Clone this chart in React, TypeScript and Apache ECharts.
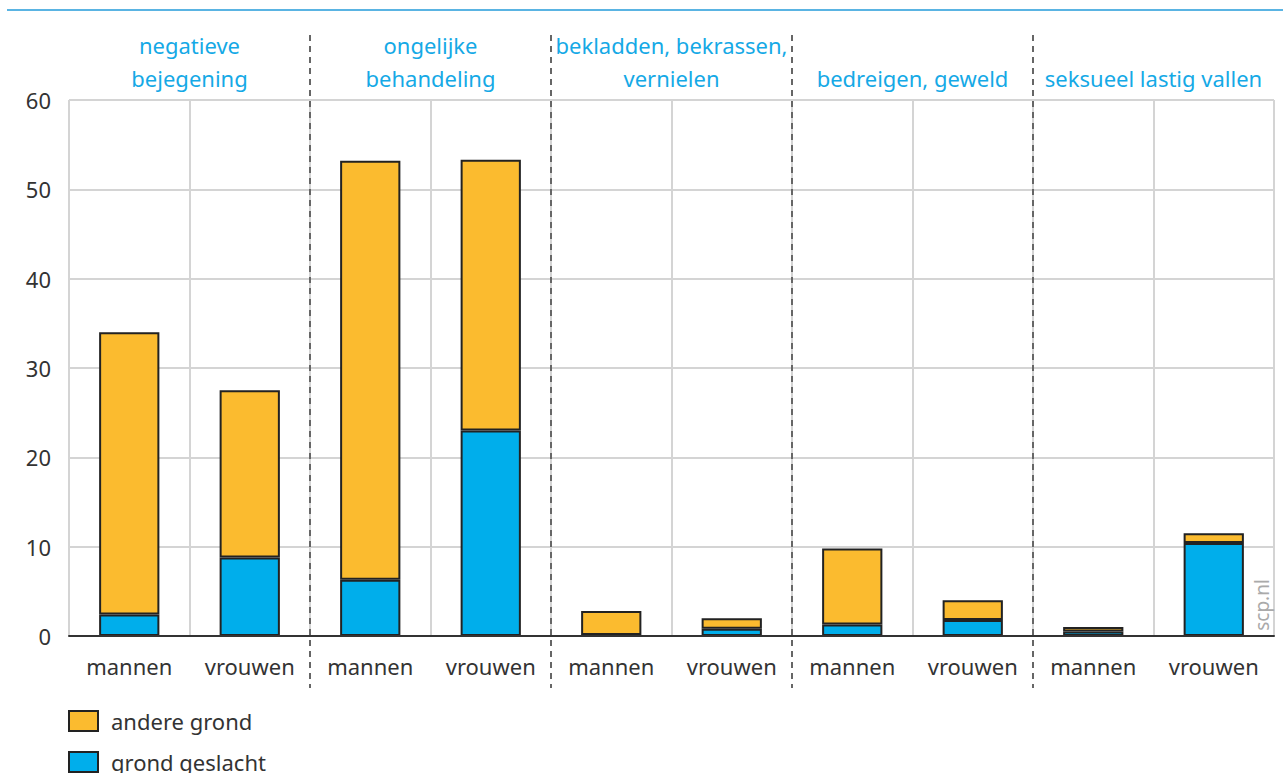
import React, { useEffect, useRef } from "react";
import * as echarts from "echarts";

const groups = [
  "negatieve\nbejegening",
  "ongelijke\nbehandeling",
  "bekladden, bekrassen,\nvernielen",
  "bedreigen, geweld",
  "seksueel lastig vallen",
];
const categories = [
  "mannen", "vrouwen", "mannen", "vrouwen", "mannen",
  "vrouwen", "mannen", "vrouwen", "mannen", "vrouwen",
];
const grondGeslacht = [2.4, 8.8, 6.3, 23.0, 0.1, 0.8, 1.3, 1.8, 0.5, 10.4];
const andereGrond = [31.6, 18.7, 46.9, 30.3, 2.7, 1.2, 8.5, 2.2, 0.5, 1.1];
const yTicks = { min: 0, max: 60, interval: 10 };
const legendNames = ["andere grond", "grond geslacht"];

const FONT = "'Noto Sans', 'Open Sans', sans-serif";
const ORANGE = "#fbbb2f";
const BLUE = "#00aeeb";
const CYAN = "#15a9e6";
const BORDER = "#222222";

export default function App() {
  const ref = useRef<HTMLDivElement>(null);
  useEffect(() => {
    document.body.style.margin = "0";
    const chart = echarts.init(ref.current!, null, { renderer: "svg" });
    const legendBase = {
      left: 68,
      padding: 0,
      itemWidth: 29,
      itemHeight: 20,
      icon: "rect",
      textStyle: { fontFamily: FONT, fontSize: 22, color: "#333", padding: [0, 0, 0, 8], lineHeight: 20 },
    };
    const option: any = {
      animation: false,
      textStyle: { fontFamily: FONT },
      grid: { left: 69, right: 9, top: 100, bottom: 137, containLabel: false },
      legend: [
        { ...legendBase, top: 710, data: [legendNames[0]] },
        { ...legendBase, top: 751, data: [legendNames[1]] },
      ],
      xAxis: [
        {
          type: "category",
          data: categories,
          axisLine: { lineStyle: { color: "#333", width: 2 } },
          axisTick: { alignWithLabel: true, length: 11, lineStyle: { color: "#333", width: 2 } },
          axisLabel: { fontFamily: FONT, fontSize: 22, color: "#333", margin: 19, interval: 0 },
          splitLine: { show: true, lineStyle: { color: "#d4d4d4", width: 2 } },
          z: 5,
        },
        {
          type: "category",
          position: "top",
          data: groups,
          axisLine: { show: false },
          axisTick: { show: false },
          axisLabel: { fontFamily: FONT, fontSize: 22, color: CYAN, margin: 6, lineHeight: 33, interval: 0 },
          splitLine: { show: false },
        },
      ],
      yAxis: {
        type: "value",
        min: yTicks.min,
        max: yTicks.max,
        interval: yTicks.interval,
        axisLine: { show: false },
        axisTick: { show: false },
        axisLabel: { fontFamily: FONT, fontSize: 22, color: "#333", margin: 18 },
        splitLine: { lineStyle: { color: "#d4d4d4", width: 2 } },
      },
      series: [
        {
          name: "grond geslacht",
          type: "bar",
          stack: "t",
          barWidth: "50%",
          data: grondGeslacht,
          itemStyle: { color: BLUE, borderColor: BORDER, borderWidth: 2 },
        },
        {
          name: "andere grond",
          type: "bar",
          stack: "t",
          barWidth: "50%",
          data: andereGrond,
          itemStyle: { color: ORANGE, borderColor: BORDER, borderWidth: 2 },
        },
      ],
    };
    chart.setOption(option);

    const graphics: any[] = [
      { type: "rect", shape: { x: 7, y: 9, width: 1276, height: 2 }, style: { fill: "#5ab4e3" } },
      {
        type: "text",
        x: 1262,
        y: 605,
        rotation: Math.PI / 2,
        style: {
          text: "scp.nl",
          fill: "#aaaaaa",
          font: `19px ${FONT}`,
          align: "center",
          verticalAlign: "middle",
        },
        z: 20,
      },
    ];
    for (let g = 1; g < groups.length; g++) {
      const a = chart.convertToPixel({ xAxisIndex: 0 }, 2 * g - 1) as number;
      const b = chart.convertToPixel({ xAxisIndex: 0 }, 2 * g) as number;
      const x = Math.round((a + b) / 2);
      graphics.push({
        type: "line",
        shape: { x1: x, y1: 35, x2: x, y2: 688 },
        style: { stroke: "#666", lineWidth: 2, lineDash: [6, 5] },
        z: 10,
      });
    }
    chart.setOption({ graphic: graphics });
    return () => chart.dispose();
  }, []);
  return <div ref={ref} style={{ width: 1283, height: 773 }} />;
}
